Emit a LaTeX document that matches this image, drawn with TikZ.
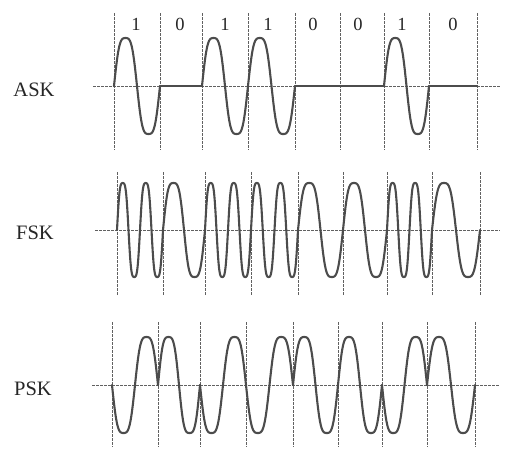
\documentclass[tikz,border=0pt]{standalone}
\usepackage{fontspec}
\setmainfont{Liberation Serif}
\begin{document}
\begin{tikzpicture}[x=1pt,y=-1pt,
  wave/.style={line width=2.1pt, draw=black!70, line join=round, line cap=round},
  gridline/.style={line width=1pt, draw=black!62, dash pattern=on 2.5pt off 1.5pt},
  lbl/.style={font=\fontsize{20.5}{20.5}\selectfont, text=black!85, inner sep=0pt},
  bitlbl/.style={font=\fontsize{18.5}{18.5}\selectfont, text=black!85, inner sep=0pt},
  declare function={wv(\t)=(sin(\t)+0.1*sin(3*\t))/0.9;}]
\useasboundingbox (0,0) rectangle (516,461);
\def\bx{{114,160,202,248,295,340,384,429,477}}
\def\bits{1/1,2/0,3/1,4/1,5/0,6/0,7/1,8/0}

% ---------- labels ----------
\node[lbl] (ask) at (34,90) {ASK};
\node[lbl] (fsk) at (35,233) {FSK};
\node[lbl] (psk) at (33,389) {PSK};
\foreach \j/\xx/\v in {1/136/1,2/180/0,3/225/1,4/268/1,5/313/0,6/358/0,7/402/1,8/453/0}
  \node[bitlbl] (bit\j) at (\xx,24) {\v};

% ---------- ASK ----------
\foreach \i in {0,...,8} {
  \pgfmathsetmacro\xa{\bx[\i]}
  \draw[gridline] (\xa,13) -- (\xa,150);
}
\draw[gridline] (93,86) -- (500,86);
\foreach \k/\bit in \bits {
  \pgfmathsetmacro\a{\bx[\k-1]}
  \pgfmathsetmacro\b{\bx[\k]}
  \pgfmathsetmacro\f{360/(\b-\a)}
  \ifnum\bit=1
    \draw[wave] plot[domain=\a:\b, samples=61, smooth] (\x,{86-48*wv(\f*(\x-\a))});
  \else
    \draw[wave] (\a,86) -- (\b,86);
  \fi
}

% ---------- FSK ----------
\foreach \i in {0,...,8} {
  \pgfmathsetmacro\xa{\bx[\i]+3}
  \draw[gridline] (\xa,172) -- (\xa,295);
}
\draw[gridline] (95,230) -- (500,230);
\foreach \k/\bit in \bits {
  \pgfmathsetmacro\a{\bx[\k-1]+3}
  \pgfmathsetmacro\b{\bx[\k]+3}
  \pgfmathsetmacro\f{(\bit==1 ? 720 : 360)/(\b-\a)}
  \draw[wave] plot[domain=\a:\b, samples=81, smooth] (\x,{230-47*wv(\f*(\x-\a))});
}

% ---------- PSK ----------
\foreach \i in {0,...,8} {
  \pgfmathsetmacro\xa{\bx[\i]-2}
  \draw[gridline] (\xa,322) -- (\xa,447);
}
\draw[gridline] (92,385) -- (500,385);
\foreach \k/\bit in \bits {
  \pgfmathsetmacro\a{\bx[\k-1]-2}
  \pgfmathsetmacro\b{\bx[\k]-2}
  \pgfmathsetmacro\f{360/(\b-\a)}
  \pgfmathsetmacro\s{\bit==1 ? 1 : -1}
  \draw[wave] plot[domain=\a:\b, samples=61, smooth] (\x,{385+\s*48*wv(\f*(\x-\a))});
}
\end{tikzpicture}
\end{document}
